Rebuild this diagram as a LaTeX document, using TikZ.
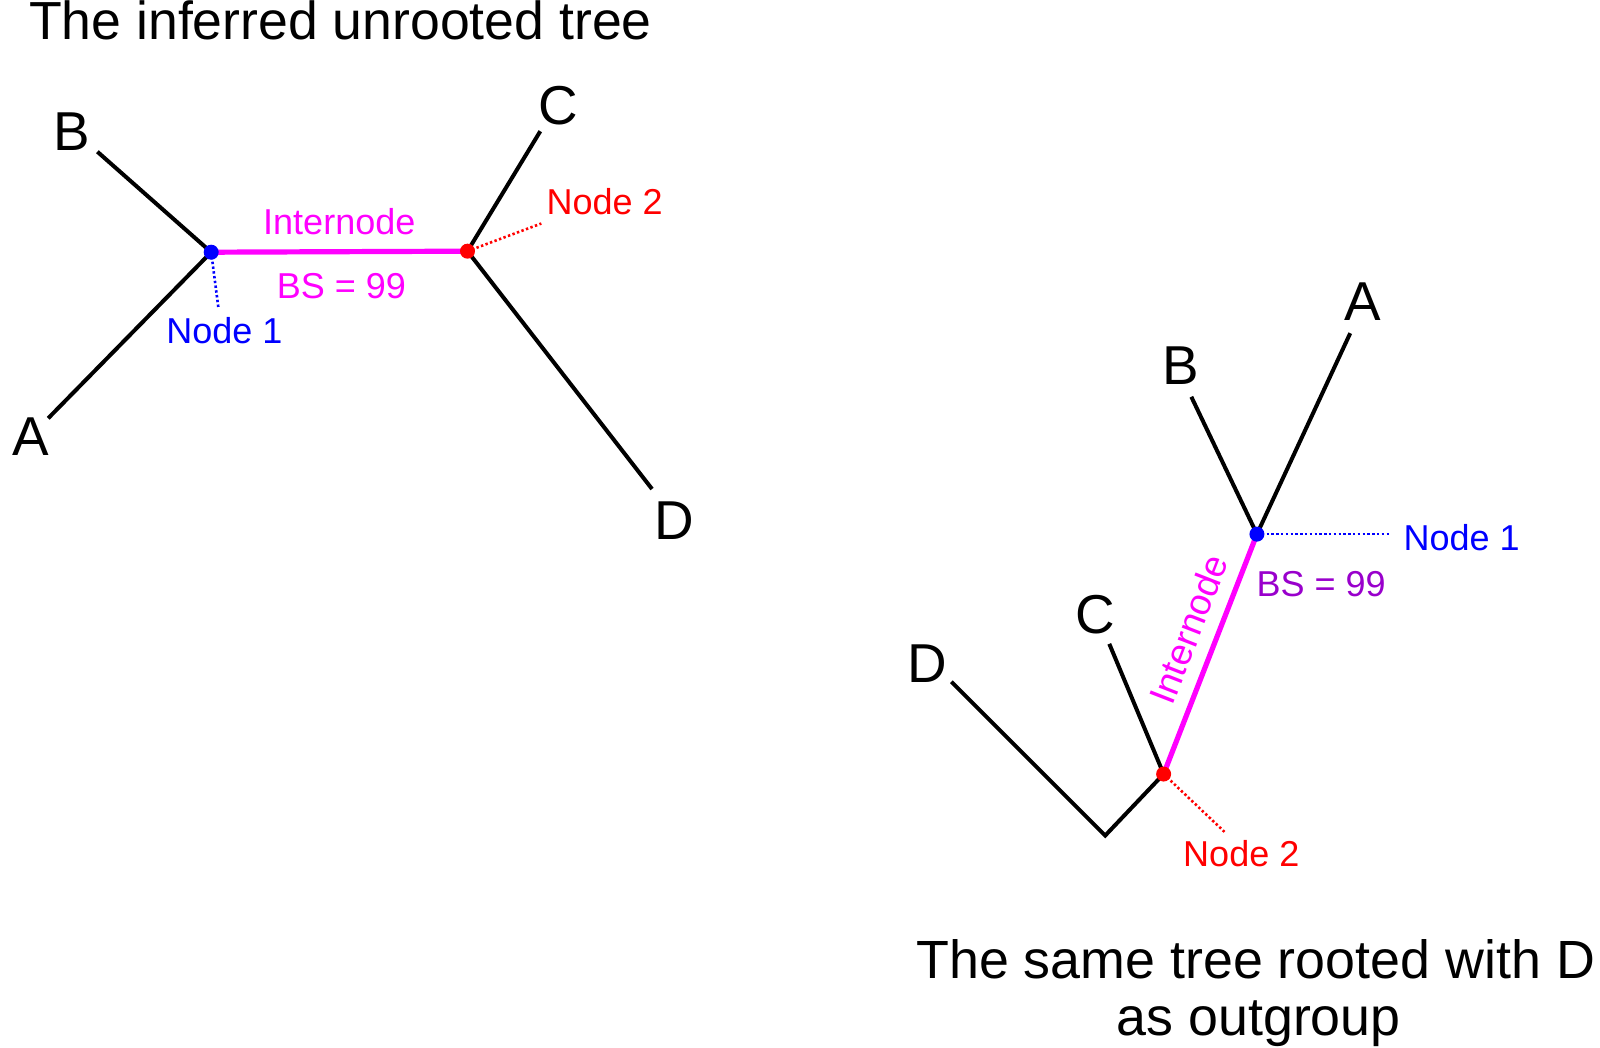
\documentclass[tikz,border=0pt]{standalone}
\usepackage{fontspec}
\setmainfont{Liberation Sans}
\definecolor{mag}{RGB}{255,0,255}
\definecolor{purp}{RGB}{153,0,204}
\begin{document}
\begin{tikzpicture}[x=0.5pt,y=-0.5pt,
  big/.style={font=\fontsize{27.4}{30}\selectfont, inner sep=0pt, anchor=base},
  small/.style={font=\fontsize{18}{20}\selectfont, inner sep=0pt, anchor=base},
  branch/.style={line width=2pt, black},
  inter/.style={line width=2.6pt, mag},
  dot/.style={circle, inner sep=0pt, minimum size=7.5pt},
  lead/.style={line width=1.3pt, dash pattern=on 1.2pt off 1.2pt}]
\useasboundingbox (0,0) rectangle (1600,1048);
\begin{scope}[scale=1.025]
% ---------- left: unrooted tree ----------
\node[big, anchor=base west, font=\fontsize{26.8}{30}\selectfont] (t1) at (28,39) {The inferred unrooted tree};

\coordinate (l1) at (206,246);
\coordinate (l2) at (456,245);
\coordinate (lBe) at (95,148);
\coordinate (lAe) at (47,408);
\coordinate (lCe) at (527,128);
\coordinate (lDe) at (636,477);
\coordinate (l1lead) at (213,300);
\coordinate (l2lead) at (528,218);

\node[big] (lB) at (70,147) {B};
\node[big] (lA) at (30,444) {A};
\node[big] (lC) at (545,121) {C};
\node[big] (lD) at (658,526) {D};

\draw[branch] (lBe) -- (l1);
\draw[branch] (lAe) -- (l1);
\draw[branch] (lCe) -- (l2);
\draw[branch] (lDe) -- (l2);
\draw[inter] (l1) -- (l2);
\draw[lead, blue] (l1) -- (l1lead);
\draw[lead, red] (l2) -- (l2lead);

\node[dot, fill=blue] (lN1) at (l1) {};
\node[dot, fill=red] (lN2) at (l2) {};

\node[small, text=mag] (lint) at (331,229) {Internode};
\node[small, text=mag] (lbs) at (333,291) {BS = 99};
\node[small, text=blue] (ln1lab) at (219,335) {Node 1};
\node[small, text=red] (ln2lab) at (590,209) {Node 2};

% ---------- right: rooted tree ----------
\coordinate (r1) at (1226,521);
\coordinate (r2) at (1135,755);
\coordinate (rroot) at (1078,815);
\coordinate (rAe) at (1317,325);
\coordinate (rBe) at (1162,387);
\coordinate (rCe) at (1082,628);
\coordinate (rDe) at (928,665);
\coordinate (r1lead) at (1357,521);
\coordinate (r2lead) at (1195,812);

\node[big] (rA) at (1330,313) {A};
\node[big] (rB) at (1152,375) {B};
\node[big] (rC) at (1069,618) {C};
\node[big] (rD) at (905,666) {D};

\draw[branch] (rAe) -- (r1);
\draw[branch] (rBe) -- (r1);
\draw[branch] (rCe) -- (r2);
\draw[branch] (rDe) -- (rroot) -- (r2);
\draw[inter] (r2) -- node[pos=0.56, sloped, above, inner sep=6.5pt, font=\fontsize{18.5}{20}\selectfont, text=mag] (rint) {Internode} (r1);
\draw[lead, blue] (r1) -- (r1lead);
\draw[lead, red] (r2) -- (r2lead);

\node[dot, fill=blue] (rN1) at (r1) {};
\node[dot, fill=red] (rN2) at (r2) {};

\node[small, text=blue] (rn1lab) at (1426,537) {Node 1};
\node[small, text=purp] (rbs) at (1289,582) {BS = 99};
\node[small, text=red] (rn2lab) at (1211,845) {Node 2};

\node[big, font=\fontsize{26.9}{30}\selectfont] (b1) at (1225,955) {The same tree rooted with D};
\node[big, font=\fontsize{26.9}{30}\selectfont] (b2) at (1228,1010) {as outgroup};
\end{scope}
\end{tikzpicture}
\end{document}
